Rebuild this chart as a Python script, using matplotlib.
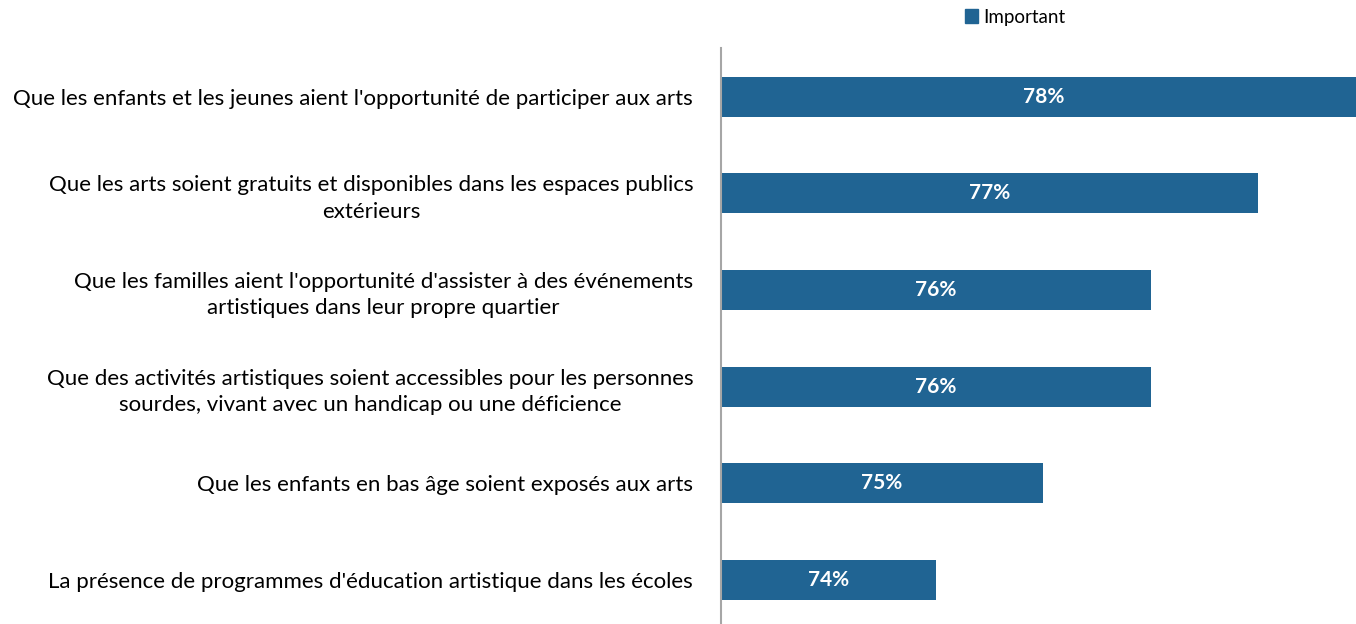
import matplotlib
matplotlib.use("Agg")
import matplotlib.pyplot as plt
from matplotlib.patches import Patch

categories = [
    "Que les enfants et les jeunes aient l'opportunité de participer aux arts",
    "Que les arts soient gratuits et disponibles dans les espaces publics\nextérieurs",
    "Que les familles aient l'opportunité d'assister à des événements\nartistiques dans leur propre quartier",
    "Que des activités artistiques soient accessibles pour les personnes\nsourdes, vivant avec un handicap ou une déficience",
    "Que les enfants en bas âge soient exposés aux arts",
    "La présence de programmes d'éducation artistique dans les écoles",
]
values = [78, 77, 76, 76, 75, 74]
series_name = "Important"
bar_color = "#206493"
axis_min = 72

plt.rcParams['font.family'] = ['Lato', 'DejaVu Sans']

fig = plt.figure(figsize=(13.56, 6.24), dpi=100)
ax = fig.add_axes([721/1356, -0.007, 1 - 721/1356, 0.9297])

y = list(range(len(categories)))
ax.barh(y, [v - axis_min for v in values], left=axis_min, height=0.414, color=bar_color)
for yi, v in zip(y, values):
    ax.text((axis_min + v) / 2, yi, f"{v}%", ha='center', va='center',
            color='white', fontsize=15, fontweight='bold')

ax.set_ylim(len(categories) - 0.5, -0.5)
ax.set_xlim(axis_min, axis_min + 635/107.4)
ax.set_yticks(y)
ax.set_yticklabels(categories, fontsize=16, multialignment='center', linespacing=1.4)
ax.tick_params(axis='y', length=0, pad=20)
ax.set_xticks([])
for s in ['top', 'right', 'bottom']:
    ax.spines[s].set_visible(False)
ax.spines['left'].set_color('#A6A6A6')
ax.spines['left'].set_linewidth(1.5)

fig.legend(handles=[Patch(color=bar_color, label=series_name)], loc='center',
           bbox_to_anchor=(1015/1356, 1 - 17/624), frameon=False, fontsize=13.5,
           handlelength=0.7, handleheight=0.7, handletextpad=0.3)

fig.savefig("out.png", dpi=100)
